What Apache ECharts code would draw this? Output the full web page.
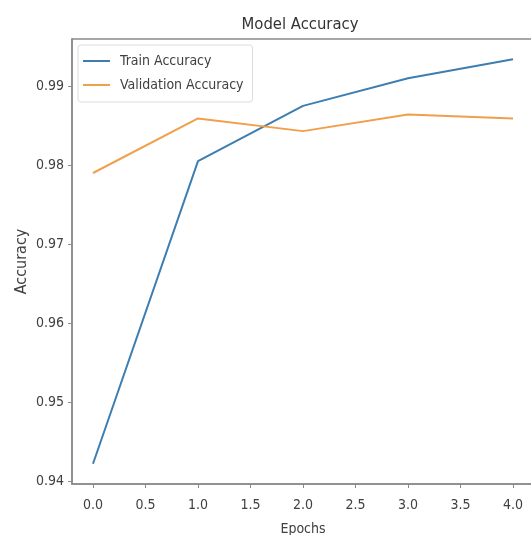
<!DOCTYPE html>
<html>
<head>
<meta charset="utf-8">
<script src="https://cdn.jsdelivr.net/npm/echarts@6/dist/echarts.min.js"></script>
<style>
html,body{margin:0;padding:0;background:#fff;}
#c{width:531px;height:535px;}
</style>
</head>
<body>
<div id="c"></div>
<script>
const epochs = [0, 1, 2, 3, 4];
const trainAcc = [0.9422, 0.9805, 0.9875, 0.9910, 0.9934];
const valAcc = [0.9790, 0.9859, 0.9843, 0.9864, 0.9859];
const yTicks = [0.94, 0.95, 0.96, 0.97, 0.98, 0.99];
const xTicks = [0, 0.5, 1, 1.5, 2, 2.5, 3, 3.5, 4];

const all = trainAcc.concat(valAcc);
const dmin = Math.min(...all), dmax = Math.max(...all);
const span = dmax - dmin;
const yMin = dmin - 0.05 * span, yMax = dmax + 0.05 * span;

const FONT = 'DejaVu Sans Condensed, DejaVu Sans, sans-serif';
const TXT = '#404040';
const AX = '#8a8a8a';

const chart = echarts.init(document.getElementById('c'), null, {renderer: 'canvas'});
chart.setOption({
  animation: false,
  backgroundColor: '#fff',
  title: {
    text: 'Model Accuracy',
    left: 295, top: 11, textAlign: 'center',
    textStyle: {fontFamily: FONT, fontSize: 16.5, fontWeight: 'normal', color: '#333'}
  },
  grid: {
    left: 72, top: 39, right: -3, bottom: 51,
    outerBoundsMode: 'none', containLabel: false,
    show: true, borderColor: AX, borderWidth: 1.5, backgroundColor: 'transparent'
  },
  legend: {
    orient: 'vertical',
    left: 78, top: 45,
    padding: [8, 9, 9, 5],
    itemGap: 8,
    itemWidth: 27, itemHeight: 2,
    itemStyle: {borderWidth: 0},
    icon: 'rect',
    backgroundColor: '#fff',
    borderColor: '#dcdcdc', borderWidth: 1, borderRadius: 3,
    textStyle: {fontFamily: FONT, fontSize: 14, color: TXT, lineHeight: 16, padding: [0, 0, 0, 5]},
    data: ['Train Accuracy', 'Validation Accuracy']
  },
  xAxis: {
    type: 'value', min: -0.2, max: 4.2,
    name: 'Epochs', nameLocation: 'middle', nameGap: 38, nameMoveOverlap: false,
    nameTextStyle: {fontFamily: FONT, fontSize: 14, color: TXT},
    axisLine: {show: true, onZero: false, lineStyle: {color: AX, width: 1.5}},
    axisTick: {show: true, length: 4, lineStyle: {color: AX}, customValues: xTicks},
    axisLabel: {customValues: xTicks, fontFamily: FONT, fontSize: 14, color: TXT, margin: 14,
      formatter: v => v.toFixed(1)},
    splitLine: {show: false}
  },
  yAxis: {
    type: 'value', min: yMin, max: yMax,
    name: 'Accuracy', nameLocation: 'middle', nameGap: 42, nameRotate: 90, nameMoveOverlap: false,
    nameTextStyle: {fontFamily: FONT, fontSize: 16, color: TXT},
    axisLine: {show: true, onZero: false, lineStyle: {color: AX, width: 1.5}},
    axisTick: {show: true, length: 4, lineStyle: {color: AX}, customValues: yTicks},
    axisLabel: {customValues: yTicks, fontFamily: FONT, fontSize: 14, color: TXT, margin: 8,
      formatter: v => v.toFixed(2)},
    splitLine: {show: false}
  },
  series: [
    {
      name: 'Train Accuracy', type: 'line', showSymbol: false,
      data: epochs.map((e, i) => [e, trainAcc[i]]),
      lineStyle: {color: '#3d7eb2', width: 2}, itemStyle: {color: '#3d7eb2'}
    },
    {
      name: 'Validation Accuracy', type: 'line', showSymbol: false,
      data: epochs.map((e, i) => [e, valAcc[i]]),
      lineStyle: {color: '#f0a04a', width: 2}, itemStyle: {color: '#f0a04a'}
    }
  ]
});
</script>
</body>
</html>
